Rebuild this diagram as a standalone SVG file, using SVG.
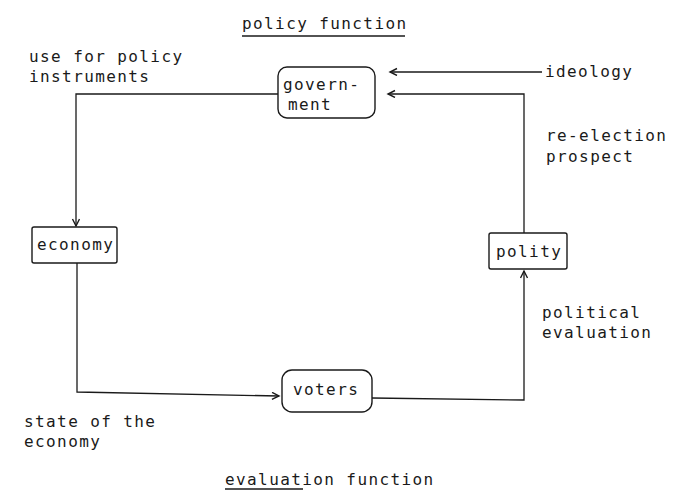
<svg xmlns="http://www.w3.org/2000/svg" width="673" height="491" viewBox="0 0 673 491">
<defs>
<marker id="arr" markerWidth="10" markerHeight="10" refX="8" refY="4" orient="auto" markerUnits="userSpaceOnUse">
<path d="M1,0.5 L8,4 L1,7.5" fill="none" stroke="#1a1a1a" stroke-width="1.4"/>
</marker>
</defs>
<style>
text{font-family:"DejaVu Sans Mono","Liberation Mono",monospace;font-size:16px;letter-spacing:1.4px;fill:#1a1a1a}
.box{fill:#fff;stroke:#1a1a1a;stroke-width:1.4}
.ln{fill:none;stroke:#1a1a1a;stroke-width:1.3}
</style>
<rect width="673" height="491" fill="#fff"/>
<g id="labels">
<text x="242" y="29">policy function</text>
<line class="ln" x1="242" y1="36" x2="405" y2="36"/>
<text x="29" y="62">use for policy</text>
<text x="29" y="82">instruments</text>
<text x="545" y="77">ideology</text>
<text x="546" y="141">re-election</text>
<text x="546" y="162">prospect</text>
<text x="542" y="318">political</text>
<text x="542" y="338">evaluation</text>
<text x="24" y="427">state of the</text>
<text x="24" y="447">economy</text>
<text x="225" y="485">evaluation function</text>
<line class="ln" x1="225" y1="489" x2="303" y2="489"/>
</g>
<g id="connectors">
<polyline class="ln" points="542,72 390,72" marker-end="url(#arr)"/>
<polyline class="ln" points="524,233 524,94 388,94" marker-end="url(#arr)"/>
<polyline class="ln" points="278,94 76,94 76,226" marker-end="url(#arr)"/>
<polyline class="ln" points="77,263 77,392 279,396" marker-end="url(#arr)"/>
<polyline class="ln" points="372,398 524,400 524,271" marker-end="url(#arr)"/>
</g>
<g id="government">
<rect class="box" x="278" y="67" width="97" height="51" rx="9"/>
<text x="283" y="90">govern-</text>
<text x="288" y="110">ment</text>
</g>
<g id="economy">
<rect class="box" x="32" y="227" width="85" height="36" rx="2"/>
<text x="37" y="250">economy</text>
</g>
<g id="voters">
<rect class="box" x="282" y="370" width="90" height="42" rx="10"/>
<text x="293" y="395">voters</text>
</g>
<g id="polity">
<rect class="box" x="489" y="233" width="78" height="36" rx="2"/>
<text x="496" y="257">polity</text>
</g>
</svg>
